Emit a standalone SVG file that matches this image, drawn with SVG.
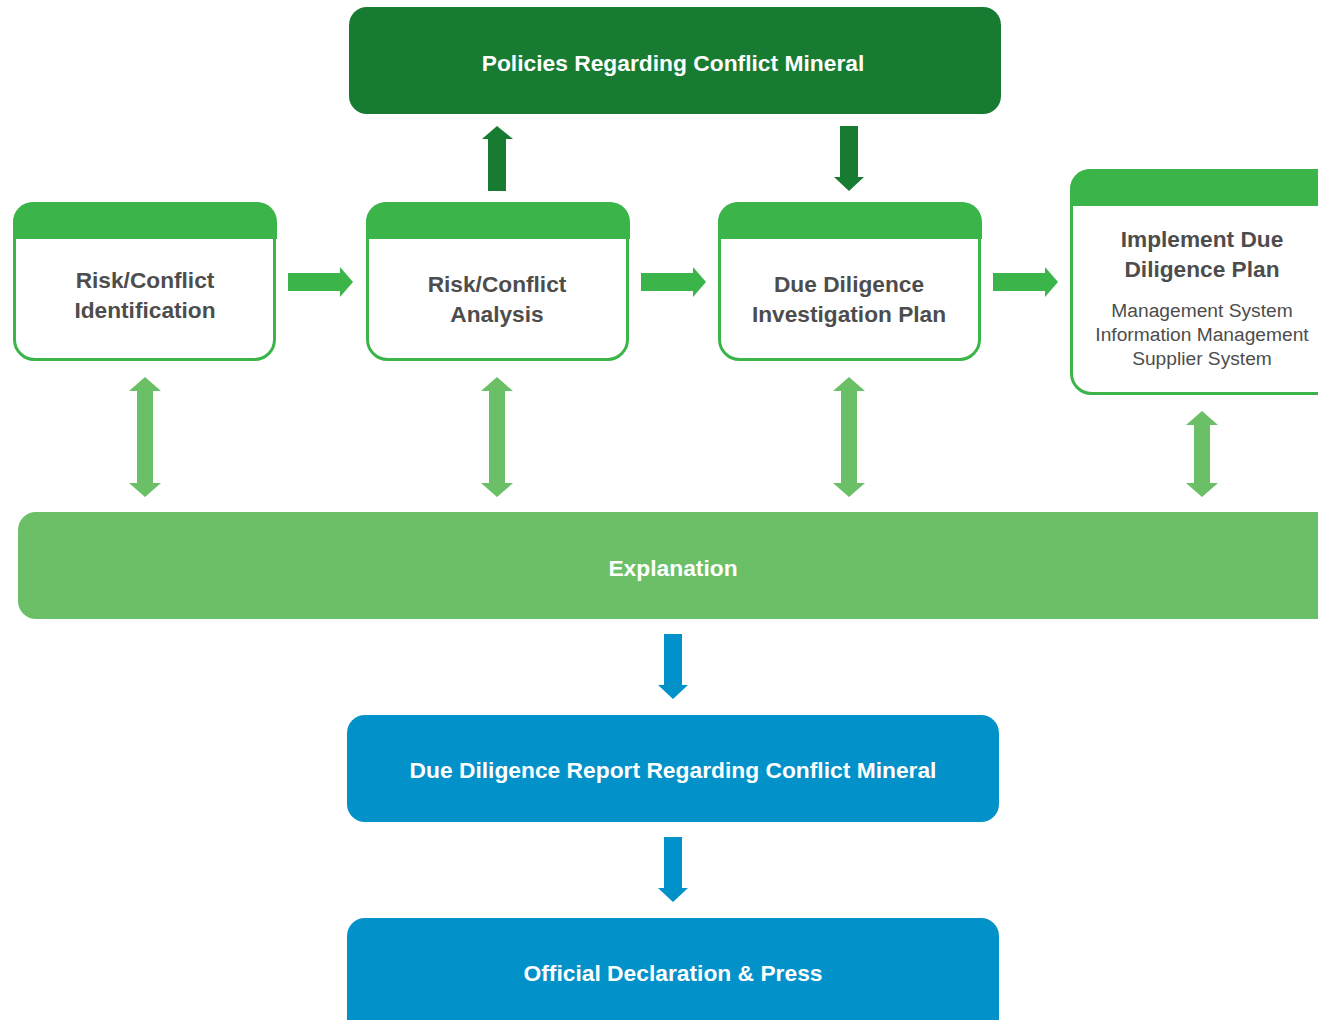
<svg xmlns="http://www.w3.org/2000/svg" width="1318" height="1020" viewBox="0 0 1318 1020">
<style>
.box{fill:#fff;stroke:#3bb54a;stroke-width:3}
.hdr{fill:#3bb54a}
.t{font-family:"Liberation Sans",Arial,sans-serif;font-weight:bold;font-size:22.7px;fill:#4d4d4d;text-anchor:middle}
.s{font-family:"Liberation Sans",Arial,sans-serif;font-size:19.2px;fill:#4d4d4d;text-anchor:middle}
.w{font-family:"Liberation Sans",Arial,sans-serif;font-weight:bold;font-size:22.8px;fill:#fff;text-anchor:middle}
.ha{fill:#3bb54a}
.da{fill:#177b32}
.la{fill:#6bbf67}
.ba{fill:#0291c9}
</style>
<defs>
<path id="harrow" d="M0,-9 H52 V-15 L65,0 L52,15 V9 H0 Z"/>
<path id="dbl" d="M0,0 L16,14 H8 V106 H16 L0,120 L-16,106 H-8 V14 H-16 Z"/>
<path id="down" d="M-9,0 H9 V51 H15 L0,65 L-15,51 H-9 Z"/>
</defs>
<g id="policies">
<rect x="349" y="7" width="652" height="107" rx="18" fill="#177b32"/>
<text class="w" x="673" y="71">Policies Regarding Conflict Mineral</text>
</g>
<g id="identification">
<rect class="box" x="14.5" y="203.5" width="260" height="156" rx="20"/>
<path class="hdr" d="M13,239 V222 A20,20 0 0 1 33,202 H257 A20,20 0 0 1 277,222 V239 Z"/>
<text class="t" x="145" y="288">Risk/Conflict</text>
<text class="t" x="145" y="318">Identification</text>
</g>
<g id="analysis">
<rect class="box" x="367.5" y="203.5" width="260" height="156" rx="20"/>
<path class="hdr" d="M366,239 V222 A20,20 0 0 1 386,202 H610 A20,20 0 0 1 630,222 V239 Z"/>
<text class="t" x="497" y="292">Risk/Conflict</text>
<text class="t" x="497" y="322">Analysis</text>
</g>
<g id="investigation">
<rect class="box" x="719.5" y="203.5" width="260" height="156" rx="20"/>
<path class="hdr" d="M718,239 V222 A20,20 0 0 1 738,202 H962 A20,20 0 0 1 982,222 V239 Z"/>
<text class="t" x="849" y="292">Due Diligence</text>
<text class="t" x="849" y="322">Investigation Plan</text>
</g>
<g id="implement">
<rect class="box" x="1071.5" y="170.5" width="280" height="223" rx="20"/>
<path class="hdr" d="M1070,206 V189 A20,20 0 0 1 1090,169 H1340 V206 Z"/>
<text class="t" x="1202" y="247">Implement Due</text>
<text class="t" x="1202" y="277">Diligence Plan</text>
<text class="s" x="1202" y="317">Management System</text>
<text class="s" x="1202" y="341">Information Management</text>
<text class="s" x="1202" y="365">Supplier System</text>
</g>
<g id="explanation">
<rect x="18" y="512" width="1340" height="107" rx="18" fill="#6bbf67"/>
<text class="w" x="673" y="576">Explanation</text>
</g>
<g id="report">
<rect x="347" y="715" width="652" height="107" rx="18" fill="#0291c9"/>
<text class="w" x="673" y="778">Due Diligence Report Regarding Conflict Mineral</text>
</g>
<g id="declaration">
<rect x="347" y="918" width="652" height="120" rx="18" fill="#0291c9"/>
<text class="w" x="673" y="981">Official Declaration &amp; Press</text>
</g>
<g id="connectors">
<use href="#harrow" class="ha" x="288" y="282"/>
<use href="#harrow" class="ha" x="641" y="282"/>
<use href="#harrow" class="ha" x="993" y="282"/>
<path class="da" d="M488,191 V139 H482 L497,126 L513,139 H506 V191 Z"/>
<use href="#down" class="da" x="849" y="126"/>
<use href="#dbl" class="la" x="145" y="377"/>
<use href="#dbl" class="la" x="497" y="377"/>
<use href="#dbl" class="la" x="849" y="377"/>
<path class="la" d="M1202,411 L1218,425 H1210 V483 H1218 L1202,497 L1186,483 H1194 V425 H1186 Z"/>
<use href="#down" class="ba" x="673" y="634"/>
<use href="#down" class="ba" x="673" y="837"/>
</g>
</svg>
